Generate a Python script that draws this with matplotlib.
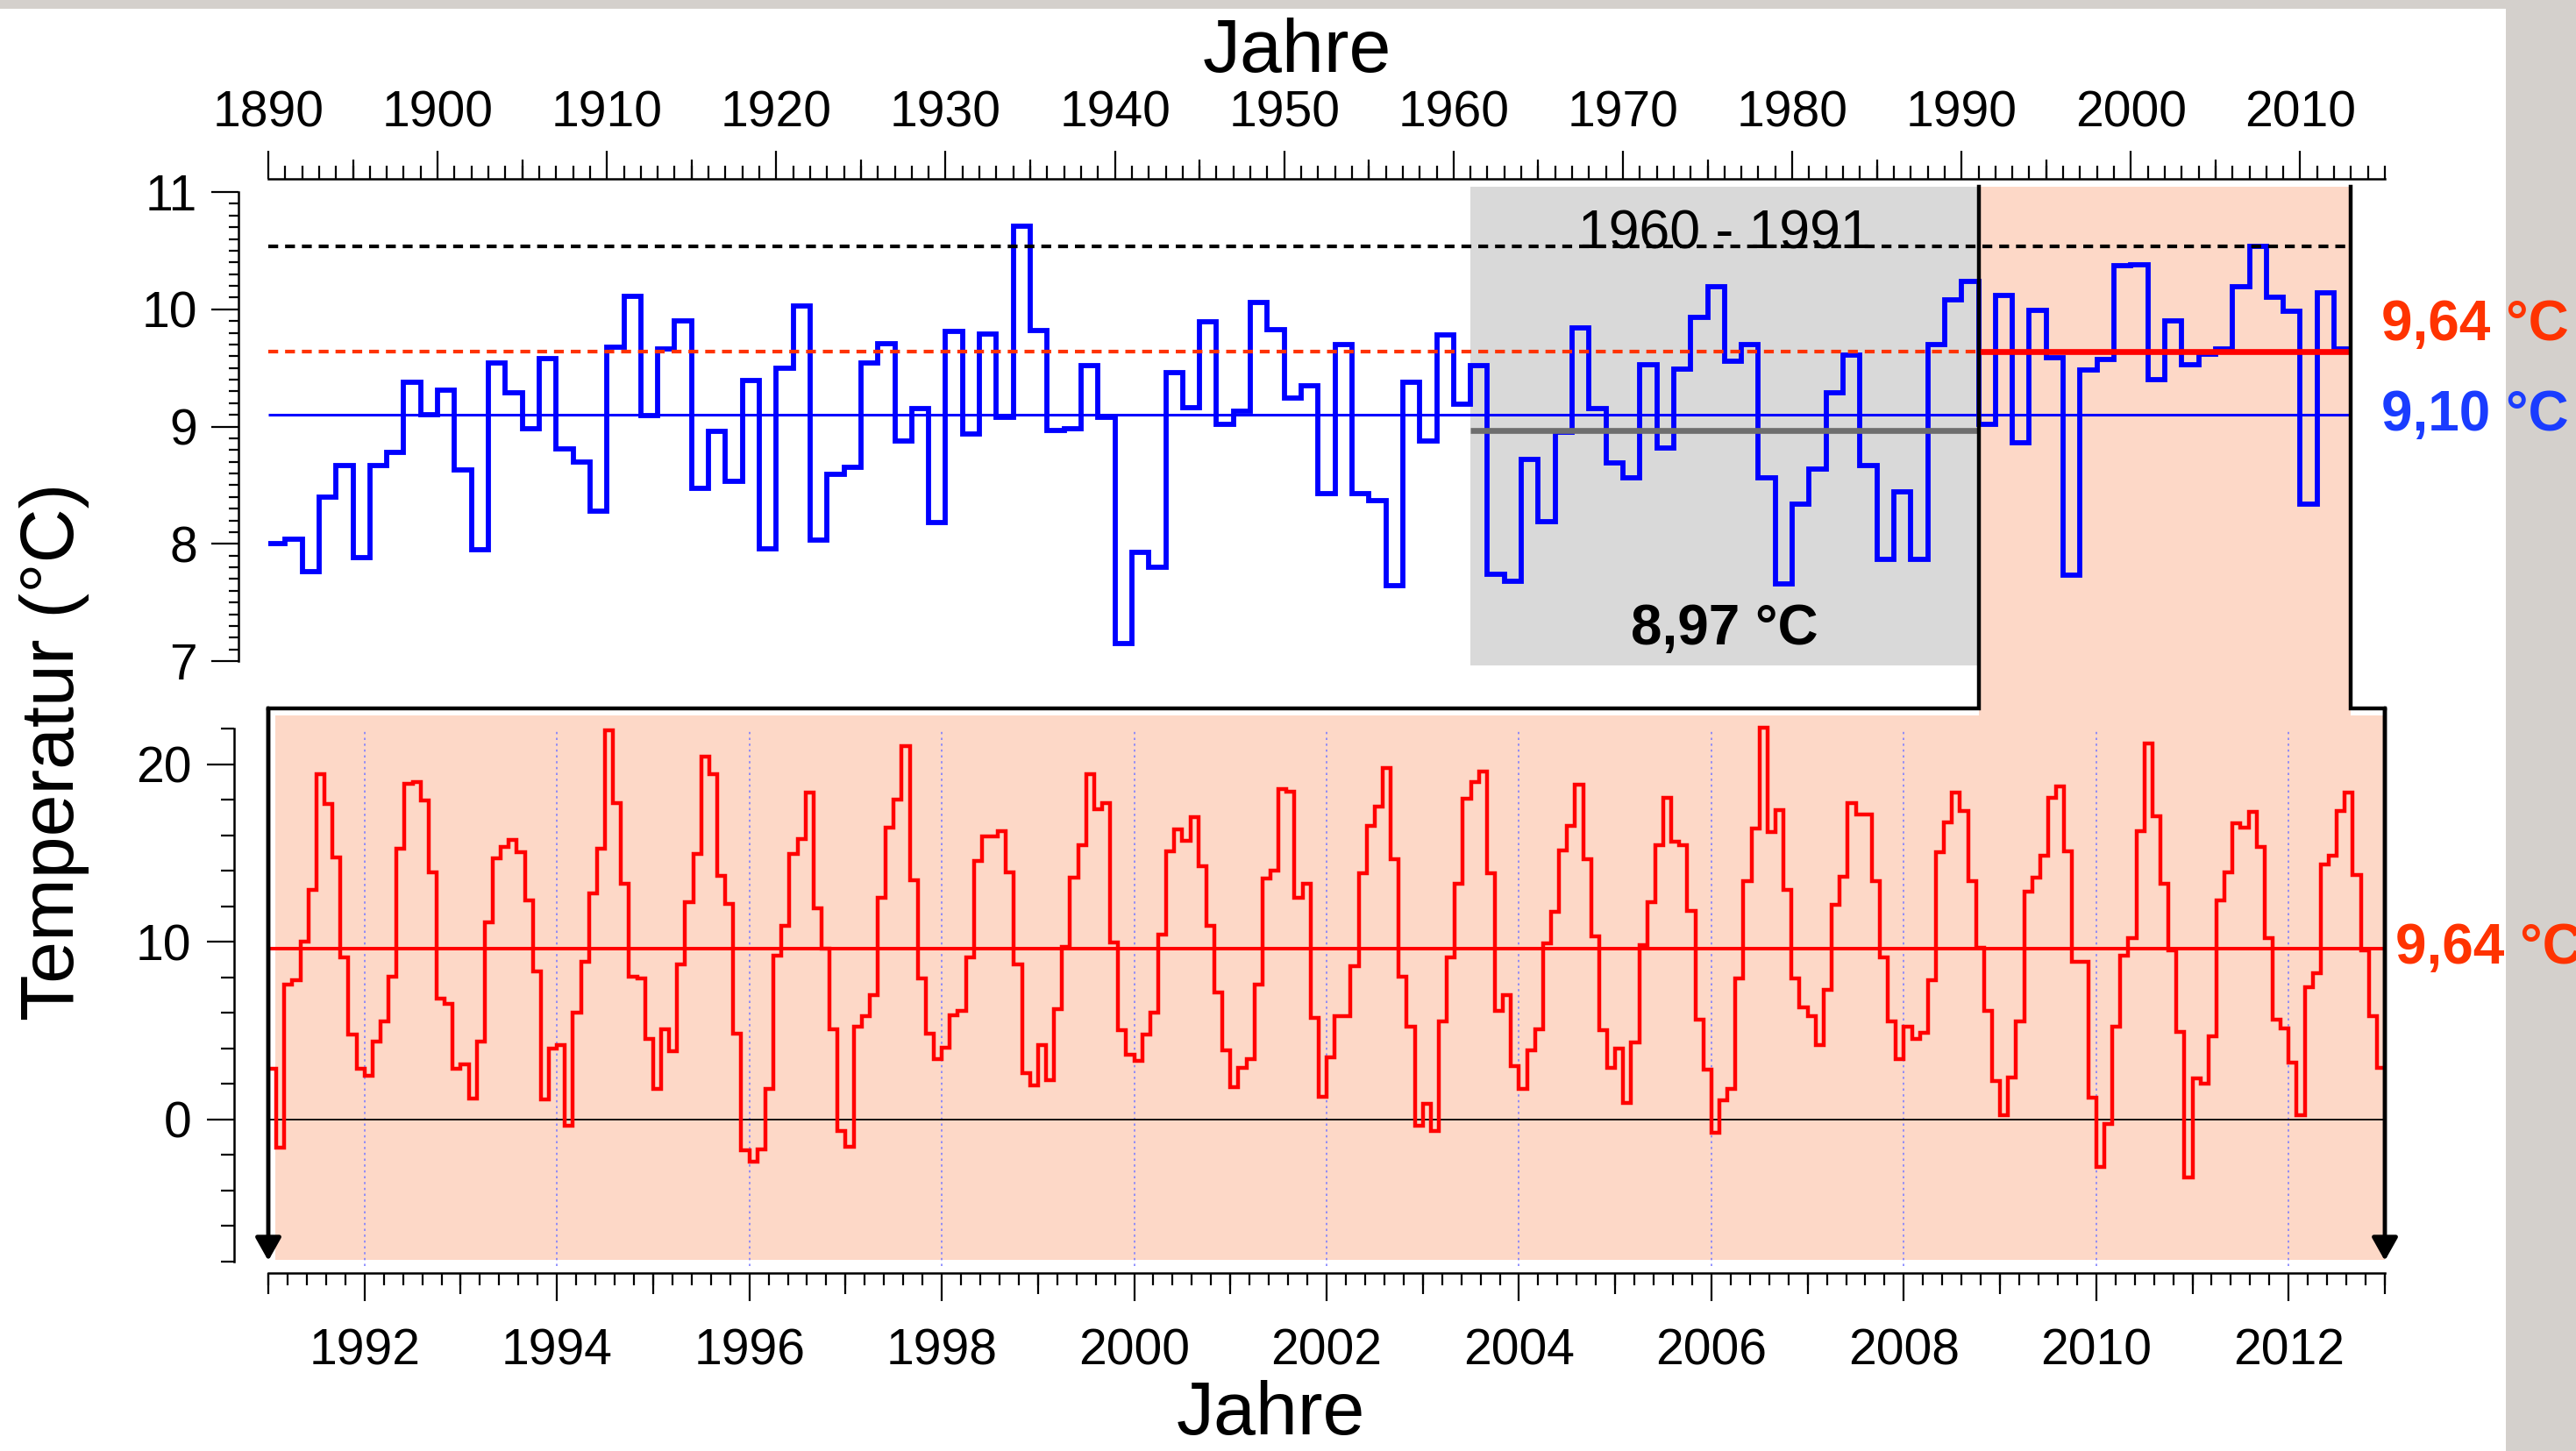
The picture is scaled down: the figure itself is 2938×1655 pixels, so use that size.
import numpy as np
import matplotlib
matplotlib.use("Agg")
import matplotlib.pyplot as plt
from matplotlib.patches import Rectangle
from matplotlib.ticker import MultipleLocator, FixedLocator, NullFormatter

plt.rcParams['font.family'] = ['Liberation Sans', 'DejaVu Sans']

# Jahresmittel 1890 - 2012
annual_years = np.arange(1890, 2013)
annual_temp = [
    8.00, 8.04, 7.76, 8.40, 8.67, 7.88, 8.67, 8.78, 9.38, 9.10,   # 1890
    9.31, 8.63, 7.95, 9.54, 9.29, 8.98, 9.58, 8.81, 8.70, 8.28,   # 1900
    9.68, 10.11, 9.09, 9.66, 9.90, 8.47, 8.96, 8.53, 9.39, 7.96,  # 1910
    9.50, 10.03, 8.03, 8.59, 8.65, 9.54, 9.71, 8.88, 9.15, 8.18,  # 1920
    9.81, 8.94, 9.79, 9.08, 10.71, 9.82, 8.97, 8.98, 9.52, 9.08,  # 1930
    7.15, 7.93, 7.80, 9.46, 9.16, 9.89, 9.02, 9.13, 10.06, 9.83,  # 1940
    9.24, 9.35, 8.43, 9.70, 8.43, 8.37, 7.64, 9.38, 8.88, 9.78,   # 1950
    9.19, 9.52, 7.74, 7.68, 8.72, 8.19, 8.95, 9.84, 9.15, 8.69,   # 1960
    8.56, 9.53, 8.82, 9.49, 9.93, 10.19, 9.56, 9.70, 8.56, 7.66,  # 1970
    8.34, 8.64, 9.29, 9.61, 8.67, 7.87, 8.44, 7.87, 9.70, 10.08,  # 1980
    10.24, 9.02, 10.12, 8.86, 9.99, 9.59, 7.73, 9.48, 9.57, 10.37,  # 1990
    10.38, 9.40, 9.90, 9.53, 9.62, 9.66, 10.19, 10.54, 10.10, 9.98,  # 2000
    8.34, 10.14, 9.66,                                              # 2010
]

# Monatsmittel Jan 1991 - Dez 2012
monthly_temp = [
    2.86, -1.59, 7.59, 7.83, 10.04, 12.92, 19.46, 17.79, 14.75, 9.15, 4.81, 2.88,    # 1991
    2.49, 4.41, 5.51, 8.03, 15.25, 18.89, 19.03, 17.97, 13.92, 6.80, 6.54, 2.88,     # 1992
    3.12, 1.19, 4.41, 11.13, 14.71, 15.35, 15.75, 15.05, 12.33, 8.35, 1.13, 4.02,    # 1993
    4.21, -0.36, 6.04, 8.89, 12.76, 15.25, 21.95, 17.83, 13.26, 8.03, 7.95, 4.55,    # 1994
    1.73, 5.11, 3.86, 8.75, 12.27, 14.95, 20.46, 19.48, 13.72, 12.17, 4.85, -1.75,   # 1995
    -2.39, -1.69, 1.73, 9.22, 10.91, 14.95, 15.79, 18.43, 11.91, 9.64, 5.11, -0.66,  # 1996
    -1.51, 5.25, 5.81, 7.00, 12.47, 16.44, 18.03, 21.05, 13.46, 7.95, 4.85, 3.42,    # 1997
    4.06, 5.90, 6.14, 9.15, 14.55, 15.94, 15.94, 16.24, 13.92, 8.75, 2.62, 1.93,     # 1998
    4.21, 2.23, 6.20, 9.72, 13.62, 15.45, 19.46, 17.48, 17.83, 9.98, 5.05, 3.66,     # 1999
    3.32, 4.81, 6.04, 10.44, 15.11, 16.34, 15.69, 17.04, 14.25, 10.93, 7.16, 3.92,   # 2000
    1.83, 2.92, 3.42, 7.59, 13.56, 14.02, 18.63, 18.47, 12.47, 13.26, 5.71, 1.29,    # 2001
    3.52, 5.81, 5.81, 8.63, 13.86, 16.54, 17.63, 19.82, 14.65, 8.03, 5.21, -0.36,    # 2002
    0.89, -0.66, 5.55, 9.15, 13.26, 18.07, 19.03, 19.62, 13.86, 6.10, 7.00, 3.02,    # 2003
    1.73, 3.92, 5.11, 9.94, 11.71, 15.15, 16.54, 18.87, 14.65, 10.32, 5.05, 2.92,    # 2004
    4.02, 0.93, 4.35, 9.82, 12.23, 15.45, 18.13, 15.65, 15.45, 11.73, 5.61, 2.82,    # 2005
    -0.76, 1.09, 1.73, 7.93, 13.42, 16.40, 22.05, 16.20, 17.44, 12.92, 7.95, 6.30,   # 2006
    5.84, 4.21, 7.30, 12.11, 13.70, 17.83, 17.18, 17.18, 13.42, 9.15, 5.55, 3.42,    # 2007
    5.21, 4.55, 4.91, 7.83, 15.05, 16.74, 18.43, 17.40, 13.42, 9.68, 6.14, 2.17,     # 2008
    0.24, 2.37, 5.55, 12.86, 13.62, 14.85, 18.13, 18.77, 15.09, 8.89, 8.89, 1.23,    # 2009
    -2.68, -0.26, 5.25, 9.24, 10.22, 16.24, 21.17, 17.08, 13.26, 9.54, 4.95, -3.28,  # 2010
    2.33, 2.03, 4.71, 12.33, 13.92, 16.68, 16.44, 17.34, 15.35, 10.22, 5.61, 5.15,   # 2011
    3.22, 0.24, 7.44, 8.25, 14.35, 14.85, 17.38, 18.43, 13.76, 9.54, 5.84, 2.92,     # 2012
]

mean_all = 9.10      # 1890 - 2012
mean_ref = 8.97      # 1961 - 1990
mean_new = 9.64      # 1991 - 2012
max_new = 10.54
ref_period = (1961, 1991)
new_period = (1991, 2013)

BLUE = '#0000ff'
RED = '#ff0000'
RED_TXT = '#ff3300'
BLUE_TXT = '#1a3cff'
PINK = '#fdd8c7'
GREY = '#d9d9d9'

W, H = 2938, 1655
fig = plt.figure(figsize=(W / 100, H / 100), dpi=100)
fig.patch.set_facecolor('white')


def px_box(left, top, right, bottom):
    return [left / W, 1 - bottom / H, (right - left) / W, (bottom - top) / H]


ax1 = fig.add_axes(px_box(306, 213, 2720, 759))
ax2 = fig.add_axes(px_box(306, 808, 2720, 1440))
for ax in (ax1, ax2):
    ax.set_facecolor('none')

ax1.set_xlim(1890, 2015)
ax1.set_ylim(6.963, 11.045)
ax2.set_xlim(1991, 2013)
ax2.set_ylim(-8.05, 23.16)

# ---- oberes Diagramm: Jahresmittel ----
y1_lo, y1_hi = ax1.get_ylim()
ax1.add_patch(Rectangle((ref_period[0], y1_lo), ref_period[1] - ref_period[0], y1_hi - y1_lo,
                        facecolor=GREY, edgecolor='none', zorder=0))

# rosa Saeule reicht bis ins untere Diagramm
pink_top2 = 22.77
y_join = ax1.transData.inverted().transform(ax2.transData.transform((1991, pink_top2)))[1]
ax1.add_patch(Rectangle((new_period[0], y_join), new_period[1] - new_period[0], y1_hi - y_join,
                        facecolor=PINK, edgecolor='none', zorder=0, clip_on=False))

ax1.stairs(annual_temp, np.append(annual_years, annual_years[-1] + 1), baseline=None,
           color=BLUE, lw=4.2, zorder=3)
dash = (0, (2.7, 1.9))
ax1.hlines(max_new, 1890, 2013, colors='k', linestyles=dash, lw=3, zorder=4)
ax1.hlines(mean_new, 1890, new_period[0], colors=RED_TXT, linestyles=dash, lw=3, zorder=4)
ax1.hlines(mean_new, new_period[0], new_period[1], colors=RED, lw=4.8, zorder=4)
ax1.hlines(mean_all, 1890, 2013, colors=BLUE, lw=2.2, zorder=4)
ax1.hlines(mean_ref, ref_period[0], ref_period[1], colors='#6e6e6e', lw=4.8, zorder=4)

mid_ref = sum(ref_period) / 2
ax1.text(mid_ref, 10.52, '1960 - 1991', ha='center', va='baseline', fontsize=45, zorder=5)
ax1.text(mid_ref, 7.142, '8,97 °C', ha='center', va='baseline', fontsize=46,
         fontweight='bold', zorder=5)
ax1.text(2014.8, 9.736, '9,64 °C', ha='left', va='baseline', fontsize=46,
         fontweight='bold', color=RED_TXT, clip_on=False)
ax1.text(2014.8, 8.966, '9,10 °C', ha='left', va='baseline', fontsize=46,
         fontweight='bold', color=BLUE_TXT, clip_on=False)

for s in ('bottom', 'right'):
    ax1.spines[s].set_visible(False)
ax1.spines['top'].set_position(('outward', 6.5))
ax1.spines['top'].set_bounds(1890, 2015)
ax1.spines['left'].set_position(('outward', 24.5))
ax1.spines['left'].set_bounds(7, 11)
for s in ('top', 'left'):
    ax1.spines[s].set_linewidth(1.8)
ax1.xaxis.tick_top()
ax1.xaxis.set_major_locator(MultipleLocator(10))
ax1.xaxis.set_minor_locator(MultipleLocator(1))
ax1.yaxis.set_major_locator(MultipleLocator(1))
ax1.yaxis.set_minor_locator(MultipleLocator(0.1))
ax1.tick_params(axis='x', which='major', length=23, width=1.6, labelsize=41, pad=11)
ax1.tick_params(axis='x', which='minor', length=11, width=1.6)
ax1.tick_params(axis='y', which='major', length=22, width=1.6, labelsize=41, pad=12)
ax1.tick_params(axis='y', which='minor', length=8, width=1.6)

sec1 = ax1.secondary_xaxis(1 + 9 / 546)
sec1.xaxis.set_major_locator(FixedLocator(np.arange(1895, 2015, 10)))
sec1.xaxis.set_major_formatter(NullFormatter())
sec1.tick_params(axis='x', length=16, width=1.6)
sec1.spines['top'].set_visible(False)

# ---- unteres Diagramm: Monatsmittel ----
ax2.add_patch(Rectangle((1991.07, -7.9), 2013 - 1991.07, pink_top2 + 7.9,
                        facecolor=PINK, edgecolor='none', zorder=0))
ax2.vlines(np.arange(1992, 2013, 2), -8.25, 22, colors='#8080ff', lw=1.2,
           linestyles=(0, (1.5, 2.5)), zorder=1, clip_on=False)
ax2.hlines(0, 1991, 2013, colors='k', lw=1.3, zorder=2)
ax2.hlines(mean_new, 1991, 2013, colors=RED, lw=2.9, zorder=3)
month_edges = 1991 + np.arange(len(monthly_temp) + 1) / 12
ax2.stairs(monthly_temp, month_edges, baseline=None, color=RED, lw=3.2, zorder=4)
ax2.text(2013.11, 8.79, '9,64 °C', ha='left', va='baseline', fontsize=46,
         fontweight='bold', color=RED_TXT, clip_on=False)

for s in ('top', 'right'):
    ax2.spines[s].set_visible(False)
ax2.spines['bottom'].set_position(('outward', 8.6))
ax2.spines['bottom'].set_bounds(1991, 2013)
ax2.spines['left'].set_position(('outward', 28))
ax2.spines['left'].set_bounds(-8, 22)
for s in ('bottom', 'left'):
    ax2.spines[s].set_linewidth(1.8)
ax2.xaxis.set_major_locator(FixedLocator(np.arange(1992, 2013, 2)))
ax2.xaxis.set_minor_locator(MultipleLocator(0.2))
ax2.yaxis.set_major_locator(MultipleLocator(10))
ax2.yaxis.set_minor_locator(MultipleLocator(2))
ax2.tick_params(axis='x', which='major', length=23, width=1.6, labelsize=41, pad=22)
ax2.tick_params(axis='x', which='minor', length=10, width=1.6)
ax2.tick_params(axis='y', which='major', length=22, width=1.6, labelsize=41, pad=13)
ax2.tick_params(axis='y', which='minor', length=11, width=1.6)

sec2 = ax2.secondary_xaxis(-12 / 632)
sec2.xaxis.set_major_locator(FixedLocator(np.arange(1991, 2014, 2)))
sec2.xaxis.set_major_formatter(NullFormatter())
sec2.tick_params(axis='x', length=17, width=1.6)
sec2.spines['bottom'].set_visible(False)

# ---- schwarzer Rahmen mit Pfeilen ----
y2_top = ax2.get_ylim()[1]
to2 = ax2.transData.inverted()
x_l = to2.transform(ax1.transData.transform((new_period[0], y1_hi)))
x_r = to2.transform(ax1.transData.transform((new_period[1], y1_hi)))
ax2.plot([1991, x_l[0], x_l[0]], [y2_top, y2_top, x_l[1]], color='k', lw=3.2,
         clip_on=False, solid_joinstyle='miter', zorder=6)
ax2.plot([x_r[0], x_r[0], 2013], [x_r[1], y2_top, y2_top], color='k', lw=3.2,
         clip_on=False, solid_joinstyle='miter', zorder=6)
for xa in (1991, 2013):
    ax2.annotate('', xy=(xa, -7.95), xytext=(xa, y2_top), annotation_clip=False,
                 arrowprops=dict(arrowstyle='-|>,head_length=0.8,head_width=0.45',
                                 lw=3.5, color='k', shrinkA=0, shrinkB=0,
                                 mutation_scale=20), zorder=6)

# ---- Beschriftungen ----
fig.text(1479 / W, 1 - 82 / H, 'Jahre', ha='center', va='baseline', fontsize=62)
fig.text(1449 / W, 1 - 1636 / H, 'Jahre', ha='center', va='baseline', fontsize=62)
fig.text(62 / W, 1 - 857 / H, 'Temperatur (°C)', ha='center', va='center',
         rotation=90, fontsize=62)

# grauer Rand (unter den Texten)
fig.add_artist(Rectangle((2858 / W, 0), 1 - 2858 / W, 1, transform=fig.transFigure,
                         facecolor='#d4d0cc', edgecolor='none', zorder=-1))
fig.add_artist(Rectangle((0, 1 - 10 / H), 1, 10 / H, transform=fig.transFigure,
                         facecolor='#d4d0cc', edgecolor='none', zorder=-1))

fig.savefig('out.png', dpi=100)
